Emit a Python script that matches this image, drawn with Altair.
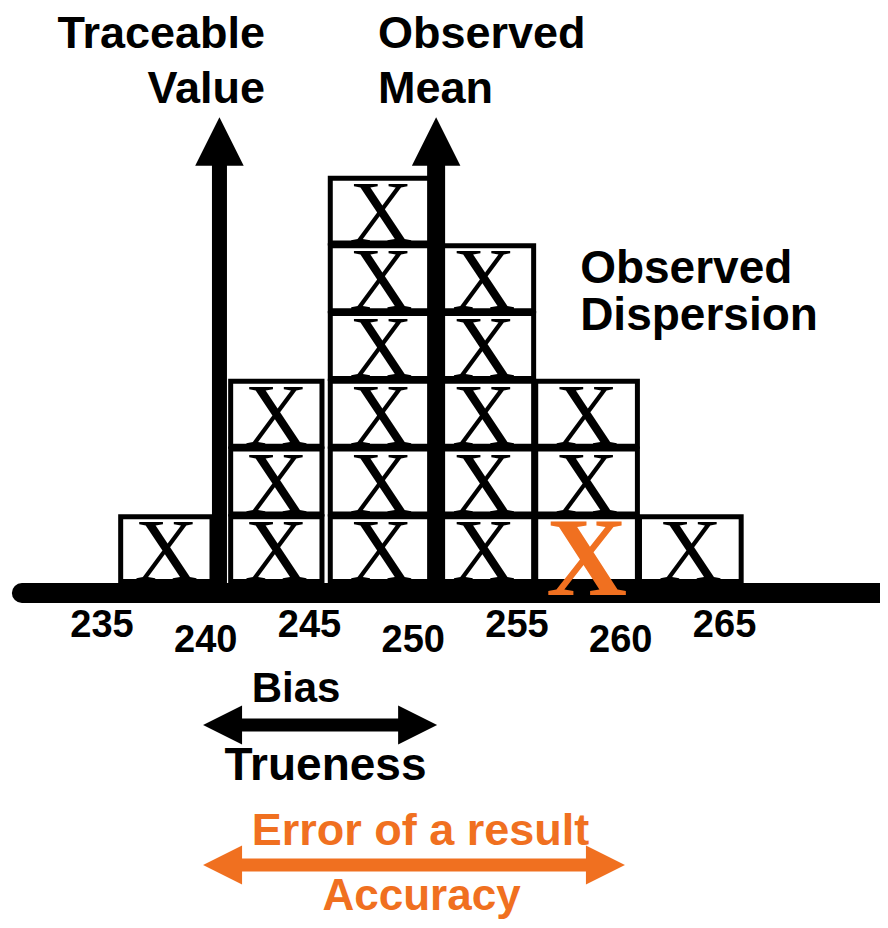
import altair as alt
import pandas as pd

# ---- data -----------------------------------------------------------------
tick_values = [235, 240, 245, 250, 255, 260, 265]

bin_left = [235.9, 241.2, 246.0, 251.0, 255.9, 260.9]
bin_right = [240.3, 245.6, 250.9, 255.8, 260.8, 265.8]
bin_counts = [1, 3, 6, 5, 3, 1]
highlight_bin = 4          # column holding the orange X (bottom box)

traceable_value = 240.66
observed_mean = 251.10
bias_span = [239.87, 251.15]
error_span = [239.87, 260.20]

ORANGE = "#f07020"
FONT = "Liberation Sans"
SERIF = "Liberation Serif"

# ---- scales (x in measurement units, y in "box" units) --------------------
H = 911
X0, X1 = 230.47, 272.49
Y1 = 8.493
Y0 = Y1 - H / 67.7
xs = alt.Scale(domain=[X0, X1], nice=False, zero=False)
ys = alt.Scale(domain=[Y0, Y1], nice=False, zero=False)


def X(f):
    return alt.X(f, type="quantitative", scale=xs, axis=None)


def Y(f):
    return alt.Y(f, type="quantitative", scale=ys, axis=None)


# ---- boxes -----------------------------------------------------------------
rows = []
for i, (l, r, n) in enumerate(zip(bin_left, bin_right, bin_counts)):
    for k in range(n):
        rows.append({"l": l, "r": r, "c": (l + r) / 2, "b": k + 0.02, "t": k + 0.98,
                     "base": k + 0.04, "hl": (i == highlight_bin and k == 0)})
boxes = pd.DataFrame(rows)

rects = alt.Chart(boxes).mark_rect(fill="white", stroke="black", strokeWidth=5).encode(
    x=X("l"), x2="r", y=Y("b"), y2="t")

xs_black = alt.Chart(boxes[~boxes.hl]).mark_text(
    font=SERIF, fontSize=88, baseline="alphabetic", align="center", color="black"
).encode(x=X("c"), y=Y("base"), text=alt.value("X"))

hl = boxes[boxes.hl].copy()
hl["base"] = -0.177
x_orange = alt.Chart(hl).mark_text(
    font=SERIF, fontSize=112, fontWeight="bold", baseline="alphabetic", align="center",
    color=ORANGE
).encode(x=X("c"), y=Y("base"), text=alt.value("X"))

# ---- number line -------------------------------------------------------------
axis_df = pd.DataFrame({"x": [231.14], "x2": [X1 + 2], "y": [-0.148]})
axis_line = alt.Chart(axis_df).mark_rule(color="black", strokeWidth=20, strokeCap="round").encode(
    x=X("x"), x2="x2", y=Y("y"))

tick_df = pd.DataFrame({
    "v": tick_values,
    "label": [str(v) for v in tick_values],
    "y": [-0.80 if i % 2 == 0 else -1.02 for i in range(len(tick_values))],
})
tick_text = alt.Chart(tick_df).mark_text(
    font=FONT, fontSize=38, fontWeight="bold", baseline="alphabetic", align="center",
    color="black").encode(x=X("v"), y=Y("y"), text="label:N")

# ---- vertical arrows -------------------------------------------------------
varrow_df = pd.DataFrame({"x": [traceable_value, observed_mean], "w": [15, 18]})
shafts = alt.Chart(varrow_df).mark_rule(color="black").encode(
    x=X("x"), y=alt.Y("y0:Q", scale=ys, axis=None), y2="y1:Q",
    strokeWidth=alt.StrokeWidth("w:Q", scale=None)
).transform_calculate(y0="0", y1="6.2")
heads_up = alt.Chart(varrow_df).mark_point(
    shape="M0,-1L1,1L-1,1Z", size=2350, filled=True, color="black", opacity=1
).encode(x=X("x"), y=alt.Y("yh:Q", scale=ys, axis=None)).transform_calculate(yh="6.522")


# ---- horizontal double arrows ------------------------------------------------
def double_arrow(span, y, color, width):
    a, b = span
    hl_ = 39 / 20.752  # head length in x units
    df = pd.DataFrame({"a": [a + hl_ * 0.9], "b": [b - hl_ * 0.9], "y": [y]})
    shaft = alt.Chart(df).mark_rule(color=color, strokeWidth=width).encode(
        x=X("a"), x2="b", y=Y("y"))
    hdf_l = pd.DataFrame({"x": [a + hl_ / 2], "y": [y]})
    hdf_r = pd.DataFrame({"x": [b - hl_ / 2], "y": [y]})
    left = alt.Chart(hdf_l).mark_point(shape="M-1,0L1,-1L1,1Z", size=1521, filled=True,
                                       color=color, opacity=1).encode(x=X("x"), y=Y("y"))
    right = alt.Chart(hdf_r).mark_point(shape="M1,0L-1,-1L-1,1Z", size=1521, filled=True,
                                        color=color, opacity=1).encode(x=X("x"), y=Y("y"))
    return shaft + left + right


bias_arrow = double_arrow(bias_span, -2.097, "black", 13)
error_arrow = double_arrow(error_span, -4.165, ORANGE, 13)


# ---- annotation text -------------------------------------------------------
def label(x, y, text, align, size=45, color="black"):
    df = pd.DataFrame({"x": [x], "y": [y], "t": [text]})
    return alt.Chart(df).mark_text(font=FONT, fontSize=size, fontWeight="bold", align=align,
                                   baseline="alphabetic", color=color).encode(
        x=X("x"), y=Y("y"), text="t:N")


texts = [
    label(242.86, 7.902, "Traceable", "right"),
    label(242.86, 7.090, "Value", "right"),
    label(248.30, 7.902, "Observed", "left"),
    label(248.30, 7.090, "Mean", "left"),
    label(258.04, 4.431, "Observed", "left", 46),
    label(258.04, 3.737, "Dispersion", "left", 46),
    label(244.35, -1.758, "Bias", "center", 42),
    label(245.77, -2.910, "Trueness", "center", 46),
    label(250.35, -3.870, "Error of a result", "center", 45, ORANGE),
    label(250.40, -4.830, "Accuracy", "center", 44, ORANGE),
]

chart = alt.layer(
    rects, xs_black, shafts, heads_up, axis_line, x_orange, tick_text,
    bias_arrow, error_arrow, *texts
).properties(
    width=872, height=H, padding=0,
    autosize=alt.AutoSizeParams(type="none"),
    background="white",
).configure_view(stroke=None)

chart.save("out.html", embed_options={"renderer": "svg", "actions": False})
